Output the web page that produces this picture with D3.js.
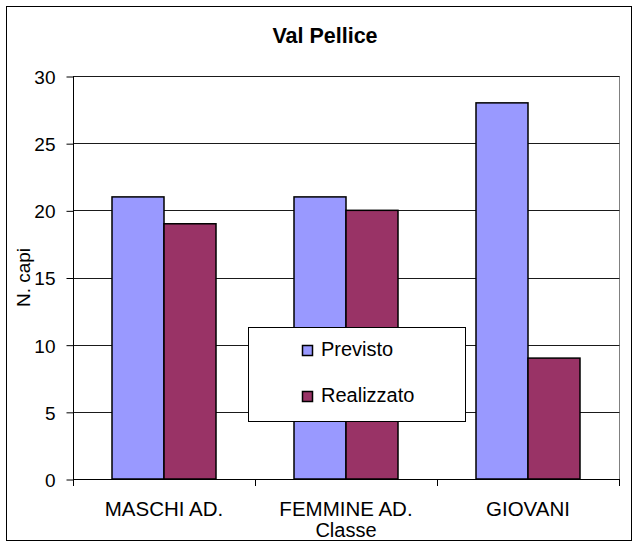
<!DOCTYPE html>
<html>
<head>
<meta charset="utf-8">
<script src="https://cdn.jsdelivr.net/npm/d3@7"></script>
<style>
  body { margin: 0; background: #fff; }
  text { font-family: "Liberation Sans", Arial, sans-serif; fill: #000; }
</style>
</head>
<body>
<script>
var categories = ['MASCHI AD.', 'FEMMINE AD.', 'GIOVANI']
var seriesNames = ['Previsto', 'Realizzato']
var previsto = [21, 21, 28]
var realizzato = [19, 20, 9]
var yTicks = [0, 5, 10, 15, 20, 25, 30]
var colors = ['#9999ff', '#993366']

var width = 637, height = 547
var plot = {left: 73, right: 619, top: 76, bottom: 479}

var svg = d3.select('body').append('svg')
    .attr('width', width)
    .attr('height', height)

// outer chart border
svg.append('rect')
    .attr('x', 6.5).attr('y', 6.5)
    .attr('width', 625).attr('height', 534)
    .attr('fill', '#fff')
    .attr('stroke', '#000')
    .attr('stroke-width', 1)

svg.append('text')
    .attr('x', 325).attr('y', 43)
    .attr('text-anchor', 'middle')
    .style('font-size', '21.5px')
    .style('font-weight', 'bold')
    .text('Val Pellice')

var y = d3.scaleLinear().domain([0, 30]).range([plot.bottom, plot.top])
var x0 = d3.scaleBand().domain(categories).range([plot.left, plot.right])
// excel gap width 150%: band = 2 bars + 1.5 bar
var barW = x0.bandwidth() / 3.5
var x1 = d3.scaleBand().domain(seriesNames)
    .range([0.75 * barW, 2.75 * barW])

// plot area border (grey)
svg.append('rect')
    .attr('x', plot.left + 0.5).attr('y', plot.top + 0.5)
    .attr('width', plot.right - plot.left).attr('height', plot.bottom - plot.top)
    .attr('fill', 'none')
    .attr('stroke', '#808080')

// gridlines
svg.append('g').selectAll('line')
    .data(yTicks.filter(function (d) { return d > 0 }))
    .enter().append('line')
    .attr('x1', plot.left).attr('x2', plot.right + 0.5)
    .attr('y1', function (d) { return Math.round(y(d)) + 0.5 })
    .attr('y2', function (d) { return Math.round(y(d)) + 0.5 })
    .attr('stroke', '#1a1a1a')

// y axis
var yAxis = d3.axisLeft(y).tickValues(yTicks).tickSize(7).tickPadding(11)
var gy = svg.append('g')
    .attr('transform', 'translate(' + (plot.left + 0.5) + ',0.5)')
    .call(yAxis)
gy.select('.domain').attr('stroke', '#000').attr('d', 'M0,' + (plot.top) + 'V' + plot.bottom)
gy.selectAll('.tick line').attr('stroke', '#000')
gy.selectAll('.tick text')
    .style('font-size', '19px')
    .attr('dy', '0.36em')

svg.append('text')
    .attr('transform', 'translate(30,' + ((plot.top + plot.bottom) / 2) + ') rotate(-90)')
    .attr('text-anchor', 'middle')
    .style('font-size', '19px')
    .text('N. capi')

// bars
var rows = categories.map(function (c, i) {
    return {cat: c, values: [
        {name: seriesNames[0], value: previsto[i]},
        {name: seriesNames[1], value: realizzato[i]}
    ]}
})

var groups = svg.append('g').selectAll('g')
    .data(rows)
    .enter().append('g')
    .attr('transform', function (d) { return 'translate(' + x0(d.cat) + ',0)' })

groups.selectAll('rect')
    .data(function (d) { return d.values })
    .enter().append('rect')
    .attr('x', function (d) { return x1(d.name) })
    .attr('y', function (d) { return y(d.value) })
    .attr('width', x1.bandwidth())
    .attr('height', function (d) { return y(0) - y(d.value) })
    .attr('fill', function (d, i) { return colors[i] })
    .attr('stroke', '#000')
    .attr('stroke-width', 1.5)

// x axis
svg.append('line')
    .attr('x1', plot.left).attr('x2', plot.right + 0.5)
    .attr('y1', plot.bottom + 0.5).attr('y2', plot.bottom + 0.5)
    .attr('stroke', '#000')

var bounds = categories.map(function (c) { return x0(c) }).concat([plot.right])
svg.append('g').selectAll('line')
    .data(bounds)
    .enter().append('line')
    .attr('x1', function (d) { return Math.round(d) + 0.5 })
    .attr('x2', function (d) { return Math.round(d) + 0.5 })
    .attr('y1', plot.bottom).attr('y2', plot.bottom + 7)
    .attr('stroke', '#000')

svg.append('g').selectAll('text')
    .data(categories)
    .enter().append('text')
    .attr('x', function (d) { return x0(d) + x0.bandwidth() / 2 })
    .attr('y', 516)
    .attr('text-anchor', 'middle')
    .style('font-size', '20.5px')
    .text(function (d) { return d })

svg.append('text')
    .attr('x', (plot.left + plot.right) / 2)
    .attr('y', 537)
    .attr('text-anchor', 'middle')
    .style('font-size', '20px')
    .text('Classe')

// legend
var legend = svg.append('g')
legend.append('rect')
    .attr('x', 248.5).attr('y', 327.5)
    .attr('width', 217).attr('height', 94)
    .attr('fill', '#fff')
    .attr('stroke', '#000')

var items = legend.selectAll('g.item')
    .data(seriesNames)
    .enter().append('g')
    .attr('class', 'item')
    .attr('transform', function (d, i) { return 'translate(302,' + (345 + i * 46) + ')' })

items.append('rect')
    .attr('x', 0.5).attr('y', 0.5)
    .attr('width', 10).attr('height', 10)
    .attr('fill', function (d, i) { return colors[i] })
    .attr('stroke', '#000')
    .attr('stroke-width', 1.5)

items.append('text')
    .attr('x', 19).attr('y', 11)
    .style('font-size', '20px')
    .text(function (d) { return d })
</script>
</body>
</html>
